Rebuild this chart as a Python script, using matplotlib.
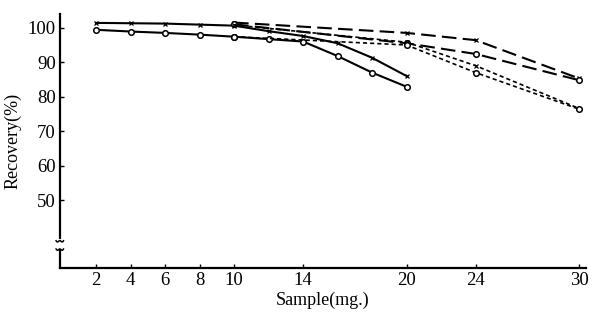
import numpy as np
import matplotlib
matplotlib.use("Agg")
import matplotlib.pyplot as plt
from matplotlib.transforms import blended_transform_factory

plt.rcParams["font.family"] = ["Liberation Serif", "DejaVu Serif"]

# solid lines, 2-20 mg
x_solid = [2, 4, 6, 8, 10, 12, 14, 16, 18, 20]
rec_solid_o = [99.4, 98.9, 98.5, 98.0, 97.4, 96.7, 96.0, 91.8, 87.0, 82.9]
rec_solid_x = [101.4, 101.3, 101.2, 100.9, 100.6, 99.0, 97.6, 95.5, 91.3, 86.0]

# dashed lines, 10-30 mg
x_dash = [10, 20, 24, 30]
rec_long_x = [101.5, 98.5, 96.4, 85.3]
rec_long_o = [101.0, 95.5, 92.4, 84.8]
rec_short_x = [100.8, 95.8, 89.0, 76.6]
rec_short_o = [97.4, 95.0, 87.0, 76.4]

xticks = [2, 4, 6, 8, 10, 14, 20, 24, 30]
yticks = [50, 60, 70, 80, 90, 100]

fig = plt.figure(figsize=(5.92, 3.2), dpi=100)
ax = fig.add_axes([0.101, 0.1625, 0.889, 0.794])

lw = 1.5
ax.plot(x_solid, rec_solid_o, "-", color="black", lw=lw, marker="o", ms=4,
        mfc="white", mew=1.1)
ax.plot(x_solid, rec_solid_x, "-", color="black", lw=lw, marker="x", ms=3, mew=0.9)
ax.plot(x_dash, rec_long_x, color="black", lw=lw, dashes=(7, 3), marker="x", ms=3, mew=0.9)
ax.plot(x_dash, rec_long_o, color="black", lw=lw, dashes=(7, 3), marker="o", ms=4,
        mfc="white", mew=1.1)
ax.plot(x_dash, rec_short_x, color="black", lw=1.2, dashes=(2.5, 1.8), marker="x", ms=3, mew=0.9)
ax.plot(x_dash, rec_short_o, color="black", lw=1.2, dashes=(2.5, 1.8), marker="o", ms=4,
        mfc="white", mew=1.1)

ax.set_xlim(-0.1, 30.4)
ax.set_ylim(30.4, 104)
ax.set_xticks(xticks)
ax.set_yticks(yticks)
ax.tick_params(direction="in", length=3, width=1, labelsize=13.5, pad=3)

for s in ["top", "right"]:
    ax.spines[s].set_visible(False)
ax.spines["left"].set_bounds(39, 104)
ax.spines["left"].set_linewidth(1.6)
ax.spines["bottom"].set_linewidth(1.6)

# axis break on the y axis
tr = blended_transform_factory(ax.transAxes, ax.transData)
ax.plot([0, 0], [30.4, 35.5], color="black", lw=1.6, transform=tr, clip_on=False)
t = np.linspace(-1, 1, 30)
for yc in [38.3, 35.9]:
    ax.plot(0.007 * t, yc + 0.6 * np.sin(np.pi * t) * -t, color="black", lw=1.1,
            transform=tr, clip_on=False)

ax.set_xlabel("Sample(mg.)", fontsize=13, labelpad=2)
ax.set_ylabel("Recovery(%)", fontsize=13, labelpad=4)

fig.savefig("out.png", dpi=100)
